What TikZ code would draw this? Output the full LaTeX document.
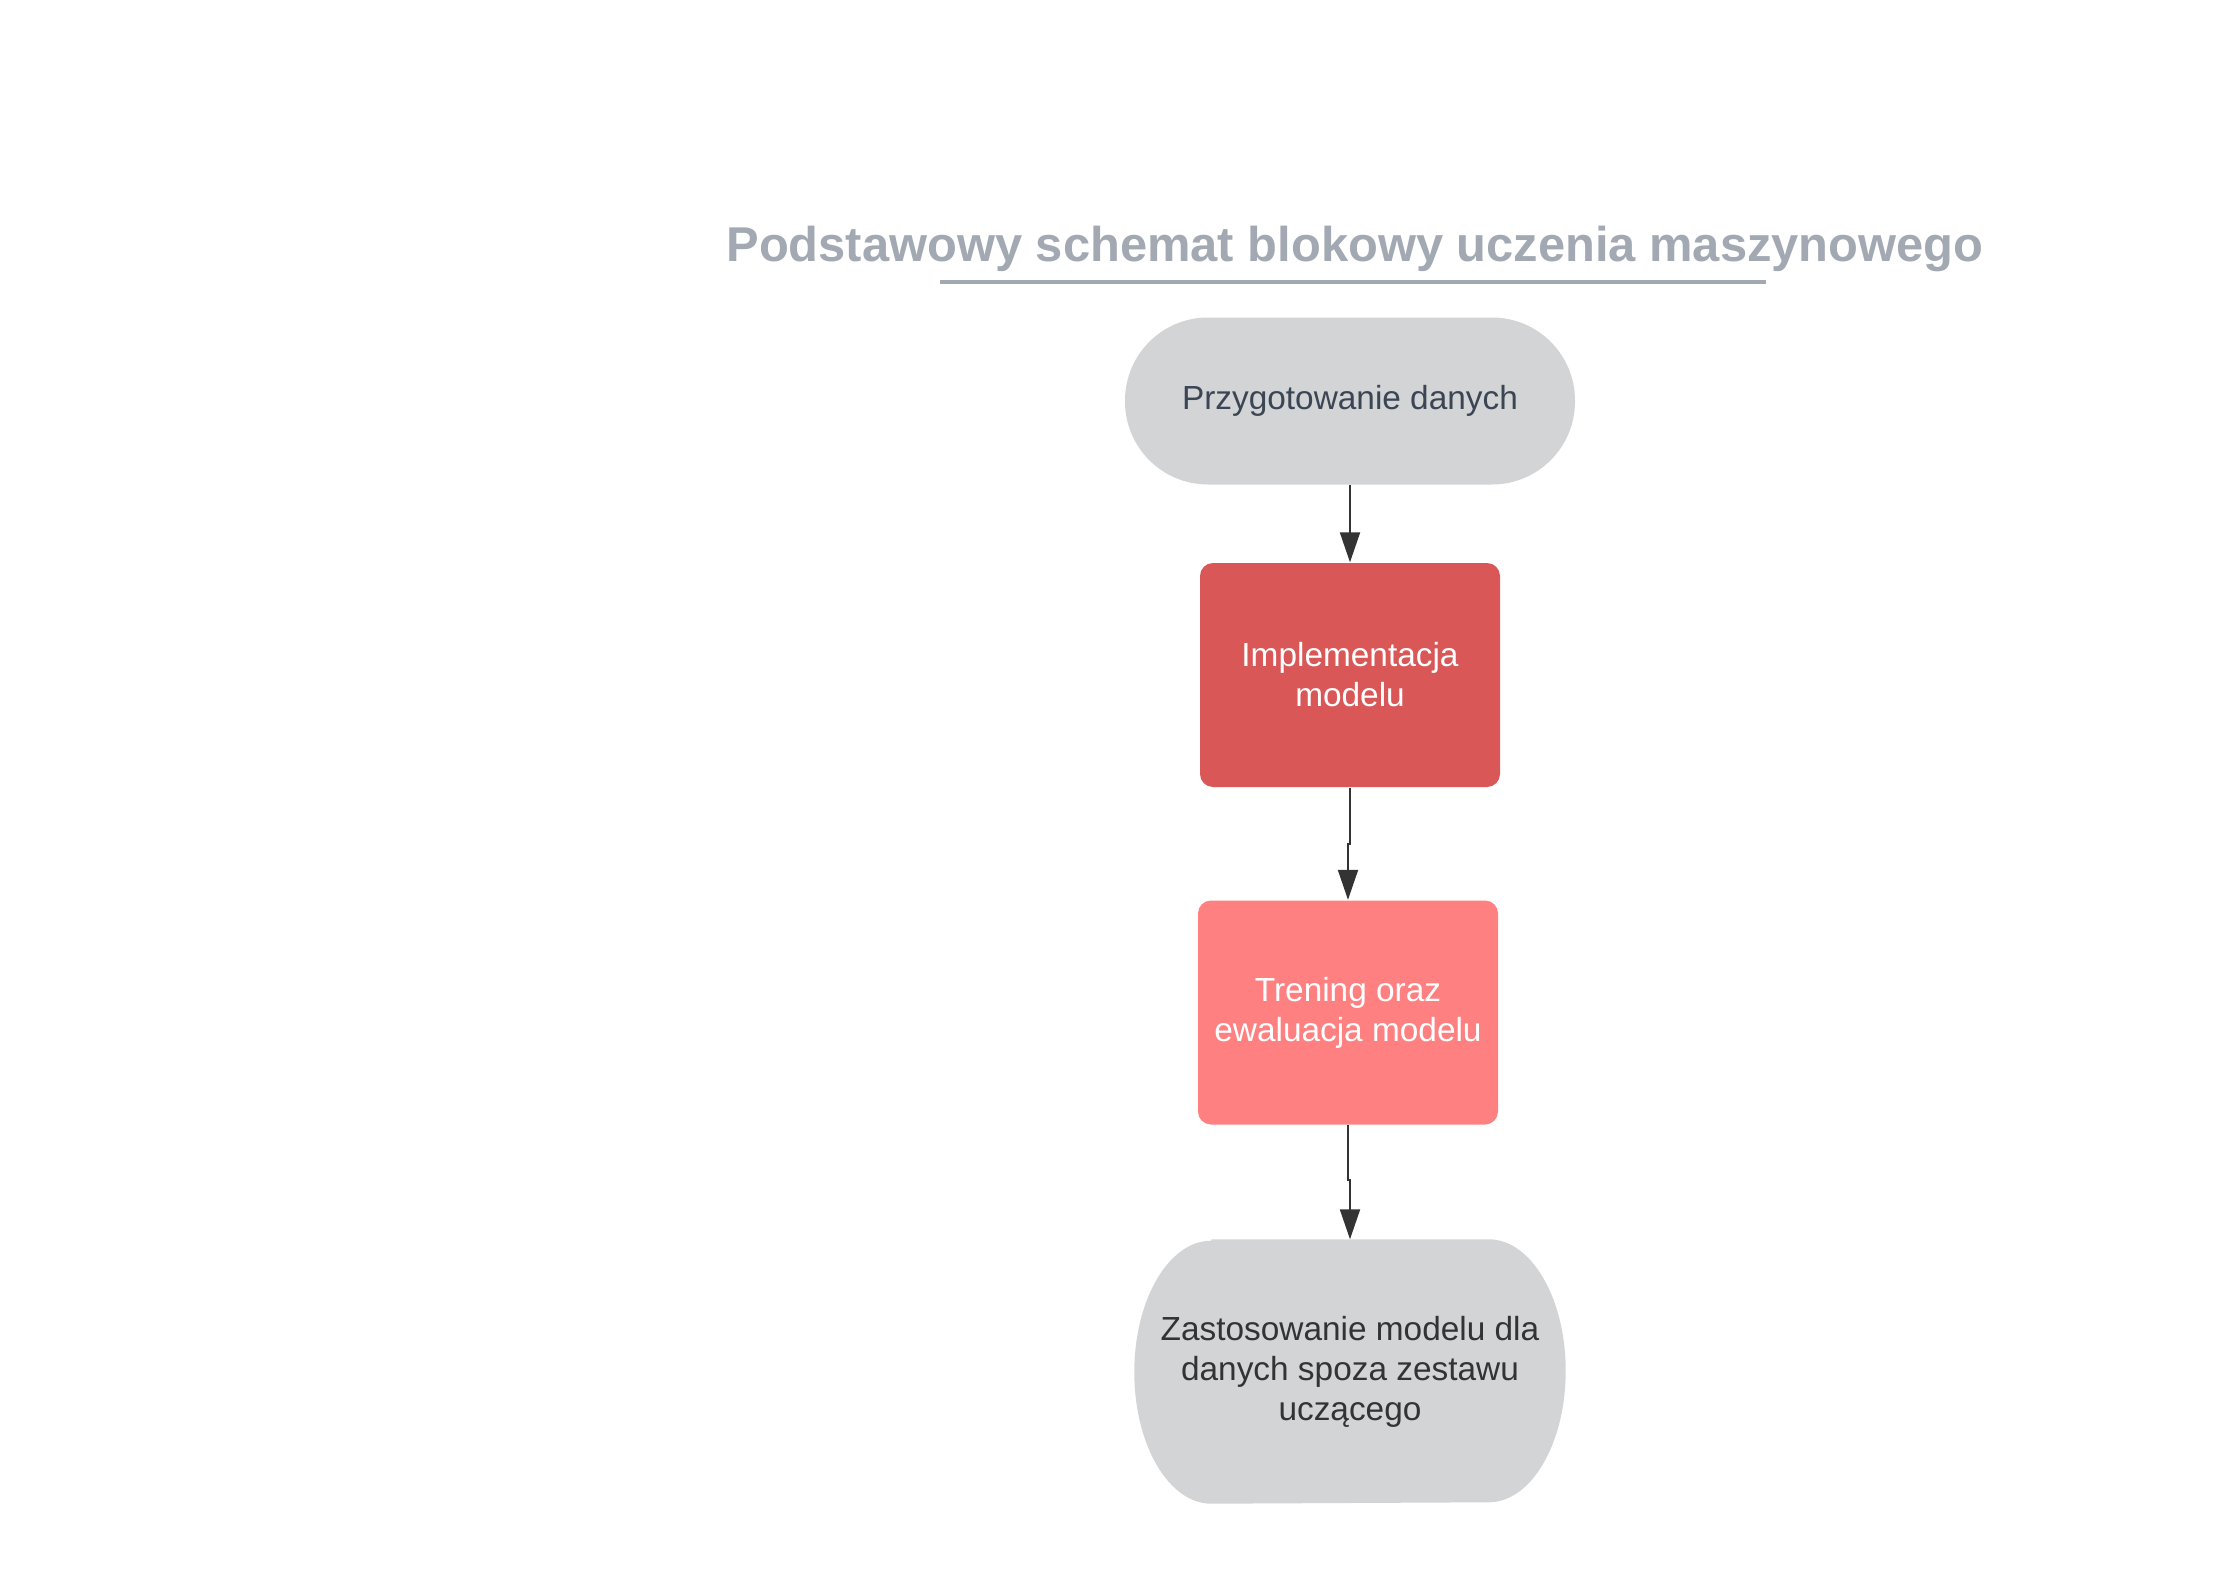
\documentclass[tikz,border=0pt]{standalone}
\usepackage{fontspec}
\setmainfont{Liberation Sans}
\usetikzlibrary{arrows.meta, positioning, backgrounds}

\definecolor{titlegrey}{HTML}{A3A9B3}
\definecolor{termgrey}{HTML}{D3D4D6}
\definecolor{implred}{HTML}{D95757}
\definecolor{trainpink}{HTML}{FF8080}
\definecolor{slatetext}{HTML}{3B4554}
\definecolor{darktext}{HTML}{333333}

\begin{document}
\begin{tikzpicture}[>={Triangle[width=0.2cm, length=0.3cm]},
    boxtext/.style={font=\fontsize{9.5}{11.4}\selectfont, align=center, inner sep=0pt},
    block/.style={boxtext, rectangle, rounded corners=0.13cm, minimum width=3cm, minimum height=2.24cm, text=white},
    flow/.style={->, draw=darktext, line width=0.57pt}]
    \useasboundingbox (0,0) rectangle (22.24,-15.79);

    \node[anchor=base, text=titlegrey, font=\fontsize{13.9}{16}\selectfont\bfseries] (title) at (13.55,-2.61) {Podstawowy schemat blokowy uczenia maszynowego};
    \draw[titlegrey, line width=1.1pt] (9.40,-2.82) -- (17.66,-2.82);

    \node[boxtext, fill=termgrey, text=slatetext, rounded corners=0.83cm, minimum width=4.5cm, minimum height=1.67cm] (prep) at (13.50,-4.01) {Przygotowanie danych};
    \node[block, fill=implred] (impl) at (13.50,-6.75) {Implementacja\\modelu};
    \node[block, fill=trainpink] (train) at (13.48,-10.125) {Trening oraz\\ewaluacja modelu};
    \node[boxtext, text=darktext, minimum width=4.3cm, minimum height=2.63cm] (apply) at (13.50,-13.715) {Zastosowanie modelu dla\\danych spoza zestawu\\uczącego};
    \begin{scope}[on background layer]
        \fill[white] (0,0) rectangle (22.24,-15.79);
        \fill[termgrey] ([xshift=0.77cm]apply.north west) -- ([xshift=-0.77cm]apply.north east)
            arc[start angle=90, end angle=-90, x radius=0.77cm, y radius=1.315cm]
            -- ([xshift=0.77cm]apply.south west)
            arc[start angle=270, end angle=90, x radius=0.77cm, y radius=1.315cm] -- cycle;
    \end{scope}

    \draw[flow] (prep) -- (impl);
    \draw[flow] (impl.south) -- ++(0,-0.56) -| (train.north);
    \draw[flow] (train.south) -- ++(0,-0.55) -| (apply.north);
\end{tikzpicture}
\end{document}
